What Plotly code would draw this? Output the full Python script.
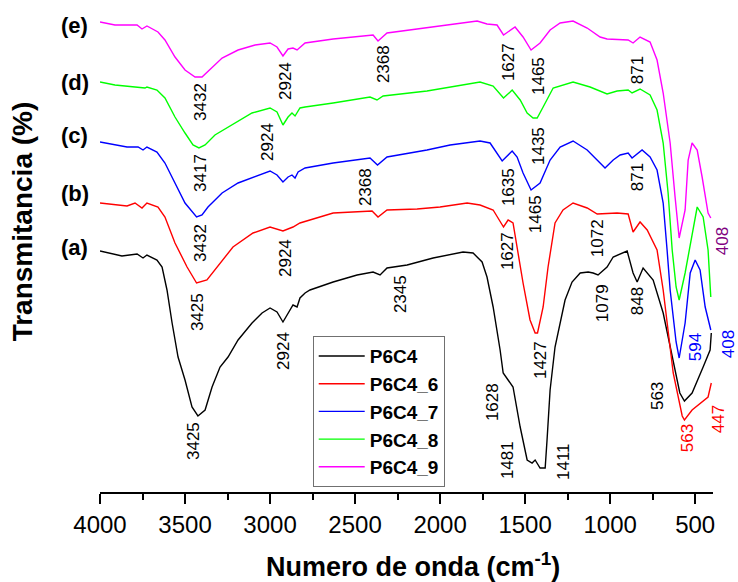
import plotly.graph_objects as go

# ---- data (wavenumber cm^-1, transmittance in arbitrary offset units) ----
wn_a = [4000, 3871, 3782, 3747, 3724, 3665, 3635, 3606, 3576, 3541, 3500, 3459, 3424, 3382, 3341, 3294,
        3247, 3188, 3106, 3047, 3000, 2959, 2924, 2894, 2865, 2841, 2824, 2794, 2765, 2629, 2488, 2394,
        2353, 2312, 2194, 2041, 1865, 1806, 1753, 1724, 1688, 1647, 1629, 1600, 1571, 1529, 1488, 1459,
        1441, 1412, 1382, 1371, 1353, 1324, 1294, 1265, 1224, 1176, 1129, 1100, 1071, 1018, 982, 900,
        865, 841, 806, 747, 688, 629, 590, 563, 518, 453, 412, 405]
t_a = [241, 236, 238, 234, 237, 232, 225, 202, 169, 135, 112, 85, 76, 82, 105, 125,
       135, 152, 169, 179, 184, 180, 170, 179, 187, 185, 194, 199, 202, 210, 217, 220,
       217, 224, 227, 234, 240, 239, 230, 215, 185, 142, 119, 112, 105, 65, 32, 29,
       32, 24, 24, 52, 102, 145, 169, 192, 210, 219, 220, 219, 217, 225, 235, 241,
       219, 210, 224, 212, 179, 132, 99, 91, 99, 125, 142, 159]

wn_b = [4000, 3912, 3841, 3794, 3753, 3724, 3659, 3618, 3559, 3488, 3432, 3371, 3218, 3100, 3000, 2924,
        2865, 2824, 2629, 2400, 2365, 2312, 2135, 2000, 1841, 1765, 1688, 1627, 1600, 1571, 1512, 1471,
        1441, 1427, 1394, 1365, 1341, 1324, 1277, 1218, 1135, 1076, 959, 894, 865, 824, 782, 724,
        688, 629, 576, 563, 518, 471, 424, 405]
t_b = [289, 287, 286, 289, 284, 289, 285, 275, 249, 225, 209, 212, 245, 259, 265, 261,
       265, 269, 279, 281, 275, 282, 283, 285, 289, 287, 282, 265, 272, 269, 209, 172,
       159, 159, 185, 225, 252, 269, 282, 289, 284, 278, 279, 278, 260, 270, 262, 242,
       202, 119, 76, 72, 82, 89, 95, 109]

wn_c = [4000, 3912, 3841, 3776, 3747, 3724, 3665, 3618, 3559, 3500, 3432, 3400, 3365, 3282, 3188, 3088,
        3000, 2959, 2924, 2894, 2871, 2853, 2835, 2794, 2629, 2412, 2368, 2312, 2077, 1941, 1765, 1706,
        1665, 1635, 1588, 1576, 1547, 1512, 1465, 1412, 1353, 1294, 1218, 1135, 1059, 1030, 982, 941,
        894, 871, 812, 765, 724, 688, 665, 647, 612, 594, 559, 529, 500, 471, 441, 408]
t_c = [350, 347, 345, 345, 342, 345, 340, 329, 309, 289, 275, 277, 285, 299, 309, 315,
       321, 317, 310, 315, 317, 314, 320, 324, 329, 334, 327, 335, 342, 347, 351, 349,
       339, 331, 339, 341, 335, 319, 302, 309, 332, 345, 351, 342, 329, 324, 332, 337,
       339, 334, 342, 335, 322, 289, 242, 202, 150, 134, 169, 219, 232, 222, 185, 162]

wn_d = [4000, 3912, 3794, 3735, 3724, 3665, 3618, 3559, 3500, 3453, 3418, 3382, 3324, 3206, 3106, 3000,
        2959, 2924, 2894, 2871, 2853, 2824, 2794, 2629, 2412, 2371, 2335, 2077, 1941, 1765, 1688, 1627,
        1588, 1576, 1529, 1488, 1453, 1429, 1394, 1335, 1218, 1118, 1018, 959, 894, 871, 824, 765,
        724, 688, 659, 635, 612, 594, 559, 488, 453, 424, 408]
t_d = [410, 407, 405, 404, 405, 402, 394, 375, 359, 347, 344, 347, 357, 369, 379, 384,
       380, 367, 375, 379, 376, 384, 385, 389, 395, 392, 396, 401, 405, 410, 406, 394,
       400, 402, 392, 379, 374, 374, 385, 404, 410, 405, 398, 401, 402, 399, 403, 397,
       382, 349, 299, 242, 205, 192, 219, 285, 275, 242, 195]

wn_e = [4000, 3912, 3782, 3753, 3724, 3659, 3618, 3559, 3500, 3441, 3400, 3341, 3282, 3188, 3088, 3000,
        2959, 2924, 2894, 2865, 2841, 2794, 2629, 2394, 2365, 2312, 2077, 1924, 1782, 1724, 1665, 1627,
        1588, 1559, 1512, 1465, 1412, 1353, 1294, 1218, 1135, 1059, 1018, 894, 865, 824, 765, 724,
        688, 647, 618, 594, 559, 541, 518, 488, 459, 424, 408]
t_e = [470, 467, 467, 463, 466, 460, 452, 435, 422, 415, 415, 425, 434, 442, 447, 449,
       445, 436, 443, 444, 442, 449, 453, 457, 451, 459, 464, 468, 471, 468, 467, 457,
       462, 465, 455, 442, 449, 462, 469, 471, 464, 455, 453, 452, 449, 455, 450, 432,
       399, 349, 295, 254, 282, 332, 349, 342, 315, 279, 274]

names = ["P6C4", "P6C4_6", "P6C4_7", "P6C4_8", "P6C4_9"]
colors = ["#000000", "#FF0000", "#0000FF", "#00FF00", "#FF00FF"]
series_wn = [wn_a, wn_b, wn_c, wn_d, wn_e]
series_t = [t_a, t_b, t_c, t_d, t_e]

# curve tags (a)-(e) and the transmittance level where each is written
tags = ["(a)", "(b)", "(c)", "(d)", "(e)"]
tag_t = [245, 299, 357, 410, 467]

# peak labels: (wavenumber position, transmittance position, text, colour, extra shift px)
peak_labels = [
    # (e)
    (3412, 390, "3432", "#000000", 0), (2912, 411, "2924", "#000000", 0), (2335, 428, "2368", "#000000", 0),
    (1600, 430, "1627", "#000000", 0), (1424, 416, "1465", "#000000", 0), (841, 422, "871", "#000000", 0),
    (400, 251, "408", "#800080", 10),
    # (d)
    (3412, 319, "3417", "#000000", 0), (3018, 350, "2924", "#000000", 0), (1424, 346, "1435", "#000000", 0),
    # (c)
    (3412, 249, "3432", "#000000", 0), (2441, 305, "2368", "#000000", 0), (1600, 305, "1635", "#000000", 0),
    (1441, 278, "1465", "#000000", 0), (841, 315, "871", "#000000", 0),
    (500, 145, "594", "#0000FF", 0), (400, 148, "408", "#0000FF", 16),
    # (b)
    (3429, 180, "3425", "#000000", 0), (2912, 234, "2924", "#000000", 0), (1606, 241, "1627", "#000000", 0),
    (1076, 254, "1072", "#000000", 0), (1412, 132, "1427", "#000000", 0),
    (547, 54, "563", "#FF0000", 0), (400, 73, "447", "#FF0000", 6),
    # (a)
    (3453, 51, "3425", "#000000", 0), (2924, 141, "2924", "#000000", 0), (2235, 198, "2345", "#000000", 0),
    (1694, 90, "1628", "#000000", 0), (1606, 32, "1481", "#000000", 0), (1277, 30, "1411", "#000000", 0),
    (1047, 189, "1079", "#000000", 0), (841, 191, "848", "#000000", 0), (724, 96, "563", "#000000", 0),
]

x_ticks = [4000, 3500, 3000, 2500, 2000, 1500, 1000, 500]

FONT = "Arial, Liberation Sans, sans-serif"

fig = go.Figure()
for n, c, xs, ys in zip(names, colors, series_wn, series_t):
    fig.add_trace(go.Scatter(x=xs, y=ys, mode="lines", name=n,
                             line=dict(color=c, width=1.4)))

annotations = []
for wx, ty, txt, col, sh in peak_labels:
    annotations.append(dict(x=wx, y=ty, xref="x", yref="y", text=txt, showarrow=False,
                            textangle=-90, xanchor="center", yanchor="middle", xshift=sh,
                            font=dict(family=FONT, size=17, color=col)))
for tg, ty in zip(tags, tag_t):
    annotations.append(dict(x=-0.041, y=ty, xref="paper", yref="y", text=tg, showarrow=False,
                            xanchor="center", yanchor="middle",
                            font=dict(family=FONT, size=22, color="#000000", weight="bold")))
annotations.append(dict(x=-0.125, y=0.56, xref="paper", yref="paper", text="Transmitancia (%)",
                        showarrow=False, textangle=-90, xanchor="center", yanchor="middle",
                        font=dict(family=FONT, size=28, color="#000000", weight="bold")))
annotations.append(dict(x=0.51, y=-0.151, xref="paper", yref="paper",
                        text="Numero de onda (cm<sup>-1</sup>)",
                        showarrow=False, xanchor="center", yanchor="middle",
                        font=dict(family=FONT, size=27, color="#000000", weight="bold")))

fig.update_layout(
    width=738, height=582,
    margin=dict(l=100, r=25, t=8, b=90),
    paper_bgcolor="white", plot_bgcolor="white",
    showlegend=True,
    legend=dict(x=0.347, y=0.322, xanchor="left", yanchor="top",
                bgcolor="white", bordercolor="#707070", borderwidth=1,
                font=dict(family=FONT, size=19, color="#000000", weight="bold"),
                itemwidth=46, tracegroupgap=0),
    annotations=annotations,
    font=dict(family=FONT),
)
fig.update_xaxes(range=[4000, 395], tickvals=x_ticks, ticktext=[str(v) for v in x_ticks],
                 showgrid=False, zeroline=False, showline=True, linecolor="#000000", linewidth=2,
                 ticks="outside", ticklen=10, tickwidth=2, tickcolor="#000000",
                 tickfont=dict(family=FONT, size=24, color="#000000"),
                 minor=dict(dtick=250, tick0=0, ticks="outside", ticklen=6, tickwidth=2,
                            tickcolor="#000000", showgrid=False))
fig.update_yaxes(range=[0, 484], showgrid=False, zeroline=False, showline=False,
                 showticklabels=False, ticks="")

fig.write_html("out.html")
